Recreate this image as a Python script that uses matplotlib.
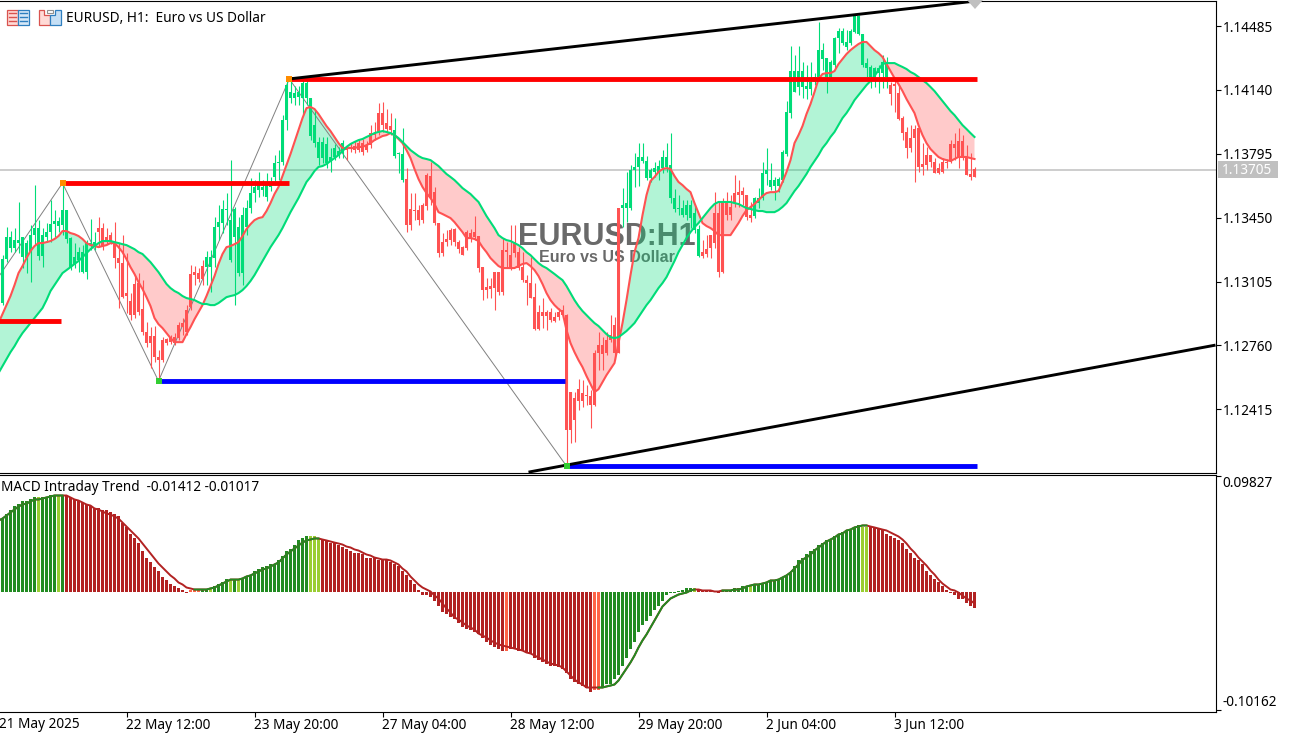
import numpy as np
import matplotlib
matplotlib.use("Agg")
import matplotlib.pyplot as plt
from matplotlib.patches import Rectangle, Polygon

plt.rcParams["font.family"] = ["Noto Sans", "DejaVu Sans"]

# --------------------------------------------------------------
# Data, prices are points above 1.10000, one bar per hour
# --------------------------------------------------------------
highs = [3248,3399,3378,3394,3535,3345,3329,3410,3626,3437,3394,3421,3545,3491,3453,3637,3491,3345,3313,3291,3302,3329,3443,3372,
 3453,3421,3394,3372,3426,3313,3356,3259,3043,3140,3151,3113,2886,2859,2865,2735,2805,2800,2816,2827,2886,2908,2978,3194,
 3189,3178,3221,3270,3275,3453,3518,3545,3583,3761,3508,3453,3508,3545,3664,3653,3697,3653,3691,3670,3788,3815,4004,4193,
 4204,4161,4161,4193,4193,4096,4031,3886,3886,3886,3826,3848,3832,3869,3837,3853,3864,3869,3875,3864,3950,3967,4069,4075,
 4037,4015,3988,3805,3934,3718,3583,3583,3518,3529,3691,3751,3616,3421,3367,3383,3394,3394,3329,3297,3383,3389,3459,3351,
 3183,3124,3124,3156,3156,3340,3318,3410,3410,3291,3264,3140,3237,3097,2978,3016,2951,2962,2940,2962,2978,2930,2508,2508,
 2579,2573,2546,2519,2735,2832,2805,2832,2924,2913,3502,3610,3697,3734,3799,3853,3853,3783,3718,3751,3761,3815,3853,3907,
 3605,3572,3545,3545,3545,3518,3410,3329,3356,3356,3588,3535,3556,3588,3572,3680,3653,3616,3572,3535,3561,3610,3751,3826,
 3745,3670,3670,3815,4080,4377,4328,4377,4291,4274,4291,4231,4507,4393,4312,4301,4426,4474,4474,4463,4469,4550,4544,4442,
 4312,4274,4264,4274,4328,4318,4183,4193,4166,3999,3940,3950,3950,3934,3853,3832,3788,3772,3745,3772,3767,3869,3907,3934,
 3896,3842,3799,3724]
lows = [2978,3210,3264,3264,3259,3178,3151,3102,3302,3221,3183,3318,3318,3345,3372,3356,3313,3167,3178,3156,3151,3119,3275,3275,
 3291,3275,3307,3307,3178,2962,3016,2935,2897,2908,2924,2816,2751,2638,2670,2573,2670,2762,2768,2762,2789,2816,2816,2951,
 3086,3102,3086,3086,3048,3183,3329,3367,3410,3210,2978,3135,3086,3356,3475,3535,3561,3567,3540,3594,3626,3653,3734,3923,
 4069,4058,4058,4004,4058,3869,3832,3734,3745,3718,3697,3761,3772,3772,3761,3805,3799,3805,3788,3805,3826,3869,3896,3913,
 3913,3896,3772,3691,3643,3372,3383,3437,3410,3421,3491,3518,3410,3237,3243,3297,3302,3297,3259,3248,3275,3318,3329,3156,
 3005,3016,3016,2951,3032,3032,3178,3167,3237,3167,3102,2978,3016,2843,2843,2854,2843,2886,2886,2897,2908,2114,2233,2238,
 2411,2427,2438,2314,2432,2627,2627,2708,2778,2681,2719,3399,3426,3491,3616,3621,3745,3653,3643,3670,3653,3691,3697,3529,
 3480,3464,3453,3437,3394,3367,3237,3232,3237,3232,3286,3129,3151,3437,3437,3508,3508,3518,3437,3426,3448,3502,3545,3626,
 3599,3545,3588,3643,3783,3988,4129,4112,4096,4091,4112,4166,4193,4247,4123,4204,4258,4339,4382,4355,4382,4447,4436,4264,
 4210,4150,4156,4123,4150,4150,4058,4021,3977,3869,3772,3805,3643,3697,3680,3707,3724,3691,3686,3691,3718,3745,3761,3718,
 3761,3680,3653,3670]
body_tops = [3227,3345,3345,3329,3329,3345,3313,3356,3394,3394,3356,3372,3415,3432,3432,3491,3491,3340,3237,3264,3264,3318,3313,3318,
 3394,3394,3345,3356,3318,3232,3205,3043,3000,3092,3097,2957,2832,2811,2811,2697,2789,2795,2805,2805,2870,2881,2951,3145,
 3156,3151,3189,3237,3237,3399,3426,3497,3497,3437,3497,3399,3464,3502,3583,3616,3643,3616,3626,3643,3745,3751,3977,4166,
 4129,4123,4129,4177,4177,4096,3950,3859,3859,3848,3778,3826,3810,3853,3832,3832,3837,3853,3853,3842,3907,3907,4015,4015,
 3961,3945,3923,3799,3794,3659,3497,3491,3491,3518,3680,3675,3588,3421,3318,3335,3383,3389,3318,3291,3372,3367,3372,3351,
 3183,3075,3081,3156,3156,3275,3275,3248,3318,3264,3183,3113,3097,3021,2940,2940,2940,2940,2913,2940,2951,2924,2508,2476,
 2524,2503,2492,2487,2719,2762,2762,2789,2816,2870,3502,3518,3529,3707,3724,3778,3778,3756,3707,3718,3729,3778,3778,3734,
 3556,3502,3502,3518,3518,3475,3389,3264,3280,3356,3475,3475,3529,3529,3508,3583,3588,3594,3572,3464,3556,3556,3691,3707,
 3653,3653,3659,3805,4021,4242,4242,4242,4242,4161,4183,4210,4355,4355,4312,4291,4420,4458,4458,4399,4458,4539,4539,4442,
 4285,4264,4258,4258,4291,4285,4166,4172,4123,3988,3913,3880,3929,3934,3740,3788,3788,3751,3718,3751,3751,3848,3848,3864,
 3864,3772,3686,3713]
body_bots = [2989,3227,3286,3286,3313,3237,3232,3264,3356,3243,3243,3345,3372,3415,3405,3410,3335,3183,3194,3221,3156,3156,3302,3291,
 3372,3291,3329,3318,3232,3205,3021,3027,2924,2924,2940,2832,2773,2773,2697,2681,2681,2773,2778,2773,2800,2859,2832,2968,
 3140,3119,3119,3183,3183,3232,3399,3421,3491,3221,3345,3151,3151,3399,3502,3583,3599,3599,3561,3616,3670,3745,3751,3977,
 4096,4096,4102,4096,4096,3891,3853,3772,3772,3745,3751,3778,3788,3799,3815,3826,3815,3815,3805,3815,3842,3896,3913,3950,
 3929,3923,3783,3794,3653,3410,3410,3486,3437,3437,3513,3556,3421,3259,3259,3318,3329,3318,3280,3248,3286,3340,3345,3178,
 3059,3059,3064,3070,3048,3048,3264,3178,3259,3178,3113,3097,3016,2848,2848,2919,2919,2897,2891,2913,2924,2303,2303,2357,
 2460,2460,2487,2438,2438,2719,2713,2719,2789,2719,2719,3502,3502,3502,3707,3724,3756,3664,3664,3697,3697,3718,3724,3556,
 3497,3497,3464,3464,3448,3383,3243,3243,3253,3286,3313,3156,3156,3464,3464,3529,3572,3572,3453,3448,3459,3529,3556,3686,
 3616,3621,3621,3653,3794,4015,4129,4156,4156,4145,4145,4183,4210,4307,4210,4210,4274,4420,4393,4372,4393,4453,4442,4274,
 4258,4210,4215,4231,4231,4210,4118,4161,3983,3907,3826,3826,3880,3724,3724,3734,3751,3691,3691,3697,3745,3756,3826,3778,
 3772,3680,3670,3670]

# the two lines start one bar left of the first candle, off the edge of the chart
fast_ma = [2881,2930,2978,3027,3086,3151,3189,3232,3270,3297,3313,3313,3318,3324,3335,3351,3378,3378,3367,3361,3351,3335,3313,3302,3297,
 3291,3297,3302,3313,3313,3291,3264,3226,3183,3146,3102,3065,3021,2973,2908,2875,2854,2827,2800,2778,2778,2778,2821,2859,
 2902,2940,2978,3027,3081,3135,3200,3254,3291,3297,3307,3318,3351,3389,3415,3437,3448,3453,3486,3529,3578,3616,3675,3734,
 3794,3859,3923,3988,4042,4048,4037,4010,3977,3945,3918,3886,3853,3826,3826,3826,3826,3832,3832,3842,3853,3869,3880,3891,
 3896,3907,3896,3875,3853,3815,3772,3713,3659,3616,3583,3556,3524,3480,3470,3459,3448,3426,3399,3372,3340,3340,3335,3324,
 3291,3264,3232,3210,3189,3178,3178,3178,3178,3189,3200,3205,3189,3167,3135,3092,3043,3005,2978,2957,2940,2843,2773,2724,
 2681,2643,2595,2552,2508,2524,2562,2600,2633,2665,2773,2881,3005,3140,3264,3340,3464,3572,3648,3670,3697,3713,3718,3713,
 3675,3643,3626,3605,3588,3529,3475,3421,3405,3394,3378,3356,3356,3356,3356,3389,3421,3459,3491,3508,3524,3545,3567,3583,
 3588,3588,3594,3643,3697,3761,3853,3896,3945,4010,4064,4129,4199,4226,4231,4231,4242,4280,4307,4334,4355,4372,4388,4399,
 4399,4377,4355,4339,4318,4280,4242,4204,4172,4134,4091,4053,4015,3950,3896,3853,3821,3799,3778,3767,3761,3756,3767,3778,
 3778,3778,3772,3767]
slow_ma = [2611,2649,2686,2724,2756,2794,2827,2854,2881,2908,2935,2962,3005,3054,3086,3118,3151,3167,3183,3200,3216,3237,3259,3280,3297,
 3313,3324,3324,3324,3318,3313,3307,3302,3291,3280,3264,3254,3232,3210,3183,3156,3124,3092,3070,3054,3043,3027,3016,3011,
 3005,2994,2984,2984,2978,2978,2989,3005,3021,3027,3032,3043,3059,3081,3108,3140,3178,3216,3254,3291,3324,3356,3394,3437,
 3480,3518,3556,3599,3643,3670,3702,3724,3729,3740,3756,3772,3788,3810,3832,3848,3859,3869,3875,3886,3896,3907,3913,3918,
 3913,3907,3896,3880,3859,3837,3815,3799,3783,3772,3767,3761,3745,3729,3707,3686,3670,3653,3632,3610,3594,3578,3556,3535,
 3497,3459,3426,3394,3356,3340,3329,3324,3313,3302,3286,3264,3248,3226,3205,3189,3178,3162,3146,3129,3113,3081,3043,3005,
 2973,2946,2924,2902,2881,2865,2843,2821,2805,2800,2805,2821,2838,2859,2881,2913,2946,2978,3005,3038,3070,3097,3129,3173,
 3216,3264,3302,3340,3372,3399,3421,3448,3475,3502,3524,3535,3535,3535,3535,3529,3524,3513,3502,3497,3491,3486,3486,3480,
 3480,3480,3491,3508,3529,3561,3594,3621,3653,3686,3724,3756,3788,3826,3853,3886,3913,3950,3988,4015,4048,4085,4112,4139,
 4166,4188,4215,4247,4280,4285,4285,4285,4274,4264,4253,4237,4226,4210,4193,4177,4156,4134,4107,4080,4053,4026,4004,3977,
 3950,3929,3907,3886]

# candle colour runs: first bar, last bar, of the green stretches
green_candles = [(0, 23), (51, 85), (98, 100), (155, 174), (188, 221)]

# levels: first bar, last bar, price in points
red_levels = [(-1, 14.5, 2891), (14.5, 71.5, 3637), (71.6, 243.5, 4199)]
blue_levels = [(38.9, 140.5, 2568), (141, 243.5, 2109)]
zigzag_bars = [-1, 15, 39, 71.7, 141]
zigzag_prices = [3130, 3637, 2568, 4199, 2109]
upper_channel = [(71.5, 4199), (243.2, 4620)]
lower_channel = [(131.5, 2076), (303.25, 2762)]
last_price = 1.13705
price_ticks = [1.14485, 1.14140, 1.13795, 1.13450, 1.13105, 1.12760, 1.12415]

# MACD, in 1e-4
macd_hist = [623,666,692,726,751,769,777,786,803,811,803,811,820,820,820,820,820,811,794,777,760,743,734,717,
 709,700,692,675,666,649,589,547,495,453,410,350,290,248,205,171,128,102,68,43,26,9,-9,9,
 9,9,17,17,26,43,68,85,111,111,111,111,111,120,145,171,188,205,222,239,239,265,307,342,
 367,401,436,453,478,470,470,453,444,436,418,410,393,376,359,350,333,325,316,290,290,282,
 273,273,273,256,231,214,171,137,102,60,17,-26,-26,-51,-85,-128,-171,-196,-222,-239,-265,-299,
 -316,-333,-342,-367,-401,-427,-453,-470,-495,-504,-504,-495,-495,-504,-512,-521,-538,-564,-581,-606,-615,-632,-640,-649,
 -658,-700,-743,-769,-786,-811,-828,-854,-837,-837,-820,-794,-786,-743,-709,-632,-572,-495,-427,-350,-290,-248,-205,-162,
 -120,-77,-34,-9,-9,3,9,26,26,34,17,9,3,3,3,-17,9,9,9,26,34,51,51,43,
 60,60,68,77,94,102,111,120,145,162,222,265,290,316,342,367,393,418,444,444,470,495,512,529,
 538,555,572,555,555,555,547,538,529,495,478,453,444,410,367,325,290,265,231,179,145,111,77,43,
 17,-17,-26,-60,-68,-102,-120,-141]
macd_signal = [606,623,649,675,700,726,743,751,769,786,786,794,803,811,820,820,820,820,803,786,777,760,743,734,709,
 700,683,666,658,640,623,589,555,521,487,453,410,367,325,282,239,205,171,137,111,77,60,34,26,
 17,17,17,17,26,34,51,68,85,102,102,102,111,128,137,154,171,188,196,214,231,248,282,316,
 342,367,393,418,436,444,453,453,444,436,427,418,410,401,384,376,359,350,333,316,307,290,
 282,273,273,265,248,231,196,171,128,94,60,34,17,0,-34,-60,-102,-145,-179,-222,-239,-265,
 -290,-307,-325,-359,-376,-393,-418,-436,-453,-461,-470,-478,-487,-495,-504,-521,-529,-547,-564,-581,-598,-615,-623,-632,
 -649,-683,-717,-751,-777,-794,-820,-820,-820,-820,-820,-811,-803,-794,-760,-709,-658,-606,-547,-478,-418,-367,-307,-248,
 -188,-128,-94,-60,-43,-26,-17,-9,9,17,17,9,9,9,0,0,9,9,9,17,17,26,43,51,
 60,60,68,77,94,94,102,120,137,162,196,231,273,290,316,350,376,401,427,444,461,487,495,521,
 529,547,555,564,564,555,547,538,529,521,504,487,470,444,410,367,333,290,256,222,179,145,102,68,
 43,17,9,-9,-34,-60,-77,-102]
hist_green = [(0, 15), (50, 79), (150, 173), (180, 216)]
hist_light = [9, 14, 52, 57, 59, 77, 78, 79, 173, 187, 215, 216]
hist_orange = [47, 48, 49, 126, 148, 149]
signal_green = [(-1, 15), (48, 79), (149, 173), (180, 216)]
macd_ticks = [0.09827, -0.10162]

time_ticks = [31, 63, 95, 127, 159, 191, 223]
time_labels = ["22 May 12:00", "23 May 20:00", "27 May 04:00", "28 May 12:00",
               "29 May 20:00", "2 Jun 04:00", "3 Jun 12:00"]

# --------------------------------------------------------------
# Colours
# --------------------------------------------------------------
UP = "#00DC78"
DOWN = "#FF5252"
TEXT = "#000000"
FS = 9.8


def price(points):
    return 1.1 + np.asarray(points, dtype=float) / 1e5


# --------------------------------------------------------------
# Layout, all in pixels of the 1294x736 picture
# --------------------------------------------------------------
W, H = 1294, 736
fig = plt.figure(figsize=(W / 100, H / 100), dpi=100, facecolor="white")


def pane(top, bottom):
    return fig.add_axes([0, 1 - bottom / H, 1215.5 / W, (bottom - top) / H])


ax = pane(0.5, 472.5)
ax2 = pane(474.5, 711.5)
over = fig.add_axes([0, 0, 1, 1], facecolor="none")
over.set_xlim(0, W)
over.set_ylim(H, 0)
over.axis("off")

bars = np.arange(len(highs))
line_x = np.arange(-1, len(highs))
for a in (ax, ax2):
    a.set_xlim(-0.625, 303.25)
    a.spines["left"].set_visible(False)
    for s in a.spines.values():
        s.set_linewidth(0.8)
ax.set_ylim(price(2074), price(4623))
ax2.set_ylim(-0.10248, 0.09992)

# --------------------------------------------------------------
# Main pane
# --------------------------------------------------------------
fast = price(fast_ma)
slow = price(slow_ma)

ax.axhline(last_price, color="#C0C0C0", lw=1.1, zorder=1)
ax.text(151, 1.13345, "EURUSD:H1", color="#696969", fontsize=22, fontweight="bold",
        family="Liberation Sans", ha="center", va="center", zorder=1.5)
ax.text(151, 1.13237, "Euro vs US Dollar", color="#696969", fontsize=11.5, fontweight="bold",
        family="Liberation Sans", ha="center", va="center", zorder=1.5)

ax.fill_between(line_x, fast, slow, where=fast >= slow, interpolate=True,
                color=UP, alpha=0.3, lw=0, zorder=2)
ax.fill_between(line_x, fast, slow, where=fast <= slow, interpolate=True,
                color=DOWN, alpha=0.3, lw=0, zorder=2)
ax.plot(zigzag_bars, price(zigzag_prices), color="#808080", lw=0.7, zorder=2.5)

candle_colors = [DOWN] * len(bars)
for start, end in green_candles:
    for i in range(start, end + 1):
        candle_colors[i] = UP
ax.vlines(bars, price(lows), price(highs), colors=candle_colors, lw=0.8, zorder=3)
tops = price(body_tops)
bots = price(body_bots)
ax.bar(bars, np.maximum(tops - bots, 6e-5), bottom=bots, width=0.75, color=candle_colors,
       lw=0, zorder=3.2)

ax.plot(line_x, fast, color=DOWN, lw=1.5, zorder=4)
ax.plot(line_x, slow, color=UP, lw=1.5, zorder=4.1)

for start, end, level in red_levels:
    ax.plot([start, end], price([level, level]), color="#FF0000", lw=3.5,
            solid_capstyle="butt", zorder=5)
for start, end, level in blue_levels:
    ax.plot([start, end], price([level, level]), color="#0000FF", lw=3.5,
            solid_capstyle="butt", zorder=5)
for line in (upper_channel, lower_channel):
    ax.plot([p[0] for p in line], price([p[1] for p in line]), color="black", lw=2.1,
            solid_capstyle="butt", zorder=6)
ax.scatter([15, 71.7], price([3637, 4199]), marker="s", s=14, color="#FF8C00", lw=0, zorder=7)
ax.scatter([39, 141], price([2568, 2109]), marker="s", s=14, color="#32CD32", lw=0, zorder=7)

ax.set_xticks([])
ax.yaxis.tick_right()
ax.set_yticks(price_ticks)
ax.set_yticklabels([f"{t:.5f}" for t in price_ticks])
ax.tick_params(axis="y", length=3.6, width=0.8, pad=1.5, labelsize=FS, color="black", labelcolor=TEXT)

# --------------------------------------------------------------
# MACD pane
# --------------------------------------------------------------
hist = np.asarray(macd_hist) / 1e4
signal = np.asarray(macd_signal) / 1e4
hist_colors = ["#B22222"] * len(bars)
for start, end in hist_green:
    for i in range(start, end + 1):
        hist_colors[i] = "#228B22"
for i in hist_light:
    hist_colors[i] = "#9ACD32"
for i in hist_orange:
    hist_colors[i] = "#FF6347"
ax2.bar(bars, hist, width=0.75, color=hist_colors, lw=0, zorder=2)

ax2.plot(line_x, signal, color="#B22222", lw=1.4, zorder=3)
for start, end in signal_green:
    seg = (line_x >= start) & (line_x <= end)
    ax2.plot(line_x[seg], signal[seg], color="#228B22", lw=1.4, zorder=3.1)

ax2.yaxis.tick_right()
ax2.set_yticks(macd_ticks)
ax2.set_yticklabels([f"{t:.5f}" for t in macd_ticks])
ax2.tick_params(axis="y", length=3.6, width=0.8, pad=1.5, labelsize=FS)
labels = ax2.get_yticklabels()
labels[0].set_va("top")
labels[1].set_va("bottom")

ax2.set_xticks(time_ticks)
ax2.set_xticklabels(time_labels, ha="left")
ax2.tick_params(axis="x", length=3.6, width=0.8, pad=0.8, labelsize=FS)

over.text(-1, 724, "21 May 2025", fontsize=FS, va="center", ha="left")
over.text(1, 487.5, "MACD Intraday Trend  -0.01412 -0.01017", fontsize=FS, va="center", ha="left")
over.text(66, 18, "EURUSD, H1:  Euro vs US Dollar", fontsize=FS, va="center", ha="left")

# --------------------------------------------------------------
# Right price tag, marker on the channel and the two toolbar icons
# --------------------------------------------------------------
over.add_patch(Rectangle((1218, 161), 60, 17, color="#C0C0C0", lw=0))
over.text(1222, 170, "1.13705", color="white", fontsize=FS, va="center", ha="left")
over.add_patch(Polygon([[967, 0], [983, 0], [975, 9]], color="#C0C0C0", lw=0))

over.add_patch(Rectangle((7, 9.5), 11, 15, fc="#FFDAD6", ec="#D9534F", lw=0.9))
over.add_patch(Rectangle((18, 9.5), 11, 15, fc="#D6E8F7", ec="#2F7FBF", lw=0.9))
for row in (13, 17, 21):
    over.plot([9, 16], [row, row], color="#D9534F", lw=1)
    over.plot([20, 27], [row, row], color="#2F7FBF", lw=1)
over.add_patch(Polygon([[39, 9.5], [44, 9.5], [44, 15], [50, 15], [50, 24.5], [39, 24.5]],
                       fc="#FFDAD6", ec="#D9534F", lw=0.9))
over.add_patch(Polygon([[55, 9.5], [60.5, 9.5], [60.5, 24.5], [50, 24.5], [50, 15], [55, 15]],
                       fc="#C5DFF5", ec="#2F7FBF", lw=0.9))
over.add_patch(Rectangle((47, 9.5), 6, 3, fc="white", ec="#909090", lw=0.8))

fig.savefig("out.png", dpi=100, facecolor="white")
